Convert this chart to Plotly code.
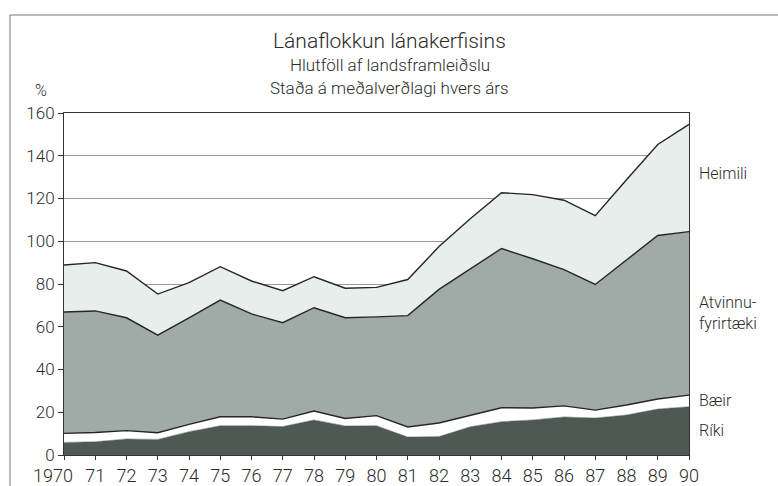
import plotly.graph_objects as go

years = list(range(1970, 1991))
tick_labels = ["1970"] + [str(y)[2:] for y in range(1971, 1991)]

riki = [5.9, 6.2, 7.5, 7.3, 10.9, 13.7, 13.7, 13.3, 16.4, 13.6, 13.7,
        8.4, 8.6, 13.2, 15.6, 16.4, 17.8, 17.3, 18.7, 21.5, 22.6]
baeir = [4.2, 4.3, 3.9, 3.1, 3.4, 4.2, 4.2, 3.5, 4.2, 3.5, 4.7,
         4.7, 6.4, 5.5, 6.5, 5.6, 5.2, 3.7, 4.7, 4.7, 5.4]
atvinnu = [56.8, 56.9, 52.8, 45.7, 49.9, 54.6, 48.1, 45.1, 48.3, 47.1, 46.2,
           52.1, 62.5, 68.3, 74.5, 69.8, 63.7, 58.8, 67.8, 76.5, 76.5]
heimili = [22.0, 22.6, 21.9, 19.2, 16.4, 15.6, 15.4, 15.0, 14.5, 13.8, 13.8,
           16.9, 20.0, 23.5, 26.1, 30.0, 32.5, 32.2, 37.6, 42.6, 50.2]

FONT = "Roboto"
TXT = "#2b2b2b"
EDGE = "#262626"

fig = go.Figure()
series = [
    ("Ríki", riki, "#4f5954", "#4f5954", 0.5),
    ("Bæir", baeir, "#ffffff", EDGE, 1.4),
    ("Atvinnufyrirtæki", atvinnu, "#a0aba7", EDGE, 1.4),
    ("Heimili", heimili, "#e7eeec", EDGE, 1.4),
]
for name, vals, fill, lc, lw in series:
    fig.add_trace(go.Scatter(
        x=years, y=vals, name=name, mode="lines", stackgroup="one",
        fillcolor=fill, line=dict(color=lc, width=lw),
        hoverinfo="x+y+name"))

fig.update_layout(
    width=778, height=486,
    margin=dict(l=64, r=89, t=113, b=31),
    paper_bgcolor="white", plot_bgcolor="white",
    showlegend=False,
    font=dict(family=FONT, size=16, color=TXT, weight=300),
)
xt = [""] + tick_labels[1:]
fig.update_xaxes(
    range=[1970, 1990], tickvals=years, ticktext=xt, automargin=False,
    showgrid=False, showline=True, linecolor="#333", linewidth=1,
    mirror=True, ticks="outside", ticklen=4, tickcolor="#333",
    tickfont=dict(family=FONT, size=18, color=TXT, weight=300), zeroline=False)
fig.update_yaxes(
    range=[0, 160], tickvals=list(range(0, 161, 20)), automargin=False,
    showgrid=True, gridcolor="#9a9a9a", gridwidth=1,
    showline=True, linecolor="#333", linewidth=1, mirror=True,
    ticks="outside", ticklen=5, tickcolor="#333",
    tickfont=dict(family=FONT, size=17, color=TXT, weight=300), zeroline=False)

# first year label sits slightly left of its tick, as in the source
fig.add_annotation(
    text=tick_labels[0], xref="x", yref="paper", x=years[0], y=0,
    xshift=-11, yshift=-20, xanchor="center", yanchor="middle", showarrow=False,
    font=dict(family=FONT, size=18, color=TXT, weight=300))

def px_x(px):
    return (px - 64) / 625

def px_y(py):
    return (455 - py) / 342

annos = [
    ("Lánaflokkun lánakerfisins", 390, 41, 21, "center"),
    ("Hlutföll af landsframleiðslu", 390, 65, 17, "center"),
    ("Staða á meðalverðlagi hvers árs", 390, 88, 17, "center"),
    ("%", 41, 90, 16, "center"),
    ("Heimili", 697, 173, 16, "left"),
    ("Atvinnu-", 697, 302, 16, "left"),
    ("fyrirtæki", 697, 323, 16, "left"),
    ("Bæir", 697, 400, 16, "left"),
    ("Ríki", 697, 430, 16, "left"),
]
for text, x, y, size, anchor in annos:
    fig.add_annotation(
        text=text, xref="paper", yref="paper", x=px_x(x), y=px_y(y),
        xanchor=anchor, yanchor="middle", showarrow=False,
        font=dict(family=FONT, size=size, color=TXT, weight=300))

# outer frame (left and top edges)
fig.add_shape(type="line", xref="paper", yref="paper",
              x0=px_x(10), y0=px_y(15), x1=px_x(10), y1=px_y(520),
              line=dict(color="#777", width=1))
fig.add_shape(type="line", xref="paper", yref="paper",
              x0=px_x(10), y0=px_y(15), x1=px_x(800), y1=px_y(15),
              line=dict(color="#777", width=1))

fig.write_html("out.html", config={"displayModeBar": False},
               post_script="document.body.style.margin='0';document.body.style.overflow='hidden';")
